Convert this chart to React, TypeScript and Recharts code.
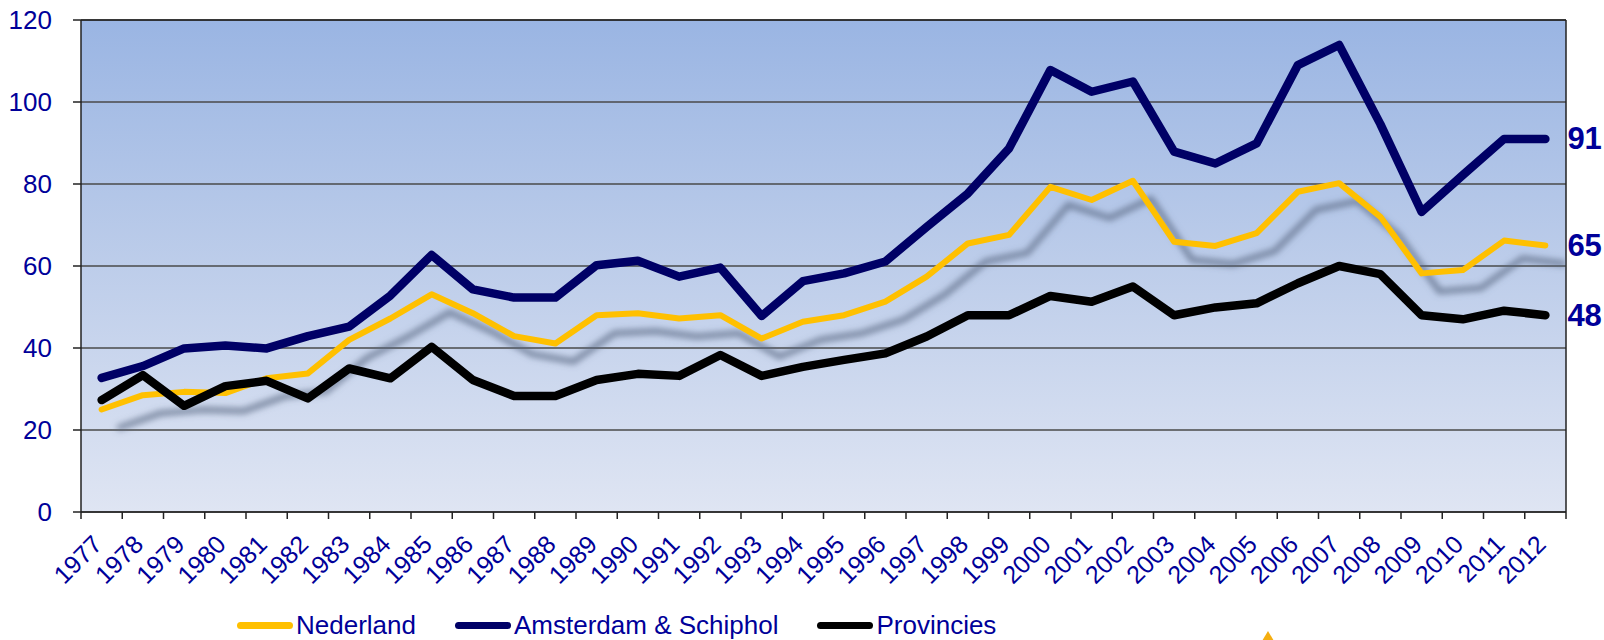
import React from 'react';
import { LineChart, Line, XAxis, YAxis, CartesianGrid, ReferenceLine, Legend, LabelList } from 'recharts';

const years = ['1977','1978','1979','1980','1981','1982','1983','1984','1985','1986','1987','1988','1989','1990','1991','1992','1993','1994','1995','1996','1997','1998','1999','2000','2001','2002','2003','2004','2005','2006','2007','2008','2009','2010','2011','2012'];

const nederland = [25.0, 28.5, 29.3, 29.0, 32.6, 33.8, 42.0, 47.2, 53.1, 48.5, 42.9, 41.1, 48.0, 48.5, 47.2, 48.0, 42.3, 46.4, 48.0, 51.3, 57.4, 65.5, 67.6, 79.3, 76.1, 80.8, 65.9, 64.9, 68.0, 78.1, 80.2, 72.0, 58.2, 59.0, 66.2, 65.0];
const amsterdam = [32.7, 35.6, 39.9, 40.6, 39.9, 42.9, 45.2, 52.8, 62.7, 54.3, 52.3, 52.3, 60.2, 61.3, 57.4, 59.6, 47.8, 56.3, 58.2, 61.1, 69.5, 77.7, 88.7, 107.8, 102.5, 105.0, 87.9, 85.0, 89.9, 109.0, 113.9, 94.6, 73.2, 82.2, 91.0, 91.0];
const provincies = [27.3, 33.4, 25.9, 30.7, 32.0, 27.7, 35.0, 32.6, 40.3, 32.2, 28.3, 28.3, 32.2, 33.7, 33.2, 38.3, 33.2, 35.4, 37.1, 38.7, 42.8, 48.0, 48.0, 52.7, 51.3, 55.0, 48.0, 49.9, 50.9, 55.8, 60.0, 58.0, 48.0, 47.0, 49.1, 48.0];

const yTicks = [0, 20, 40, 60, 80, 100, 120];

const seriesNames = ['Nederland', 'Amsterdam & Schiphol', 'Provincies'];
const seriesColors = ['#FFC000', '#000066', '#000000'];

const data = years.map((y, i) => ({
  idx: i,
  year: y,
  Nederland: nederland[i],
  Amsterdam: amsterdam[i],
  Provincies: provincies[i],
}));

const lastIndex = years.length - 1;
const boundaryTicks = [...years.map((_, i) => i - 0.5), years.length - 0.5];
const labelTicks = years.map((_, i) => i);

const FONT = '"Liberation Sans", Arial, sans-serif';
const TEXT_COLOR = '#000099';

const YearTick = (props: any) => {
  const { x, y, payload } = props;
  const label = years[payload.value];
  return (
    <g transform={`translate(${x + 2},${y + 26})`}>
      <text x={0} y={0} textAnchor="end" transform="rotate(-45)" fill={TEXT_COLOR} fontSize={25} fontFamily={FONT}>
        {label}
      </text>
    </g>
  );
};

const endLabel = (props: any) => {
  const { x, y, value, index } = props;
  if (index !== lastIndex) return <g />;
  return (
    <text x={x + 22} y={y} dominantBaseline="central" fill={TEXT_COLOR} fontSize={31} fontWeight="bold" fontFamily={FONT}>
      {Math.round(value)}
    </text>
  );
};

const renderLegend = () => (
  <div style={{ display: 'flex', alignItems: 'center', height: 30, fontFamily: FONT, fontSize: 26, color: TEXT_COLOR }}>
    {seriesNames.map((n, i) => (
      <div key={n} style={{ display: 'flex', alignItems: 'center', marginRight: 39 }}>
        <div style={{ width: 56, height: 7, borderRadius: 4, background: seriesColors[i], marginRight: 3 }} />
        <span style={{ lineHeight: '30px' }}>{n}</span>
      </div>
    ))}
  </div>
);

export default function App() {
  return (
    <div style={{ position: 'absolute', left: 0, top: 0, width: 1604, height: 640, background: '#fff' }}>
      <LineChart width={1604} height={640} data={data} margin={{ top: 20, right: 38, left: 0, bottom: 0 }}>
        <defs>
          <linearGradient id="bgGrad" x1="0" y1="0" x2="0" y2="1">
            <stop offset="0%" stopColor="#9AB5E3" />
            <stop offset="50%" stopColor="#BDCDEA" />
            <stop offset="100%" stopColor="#DFE5F3" />
          </linearGradient>
          <filter id="shadow" x="-10%" y="-40%" width="120%" height="180%">
            <feGaussianBlur in="SourceAlpha" stdDeviation="3" />
            <feOffset dx="18" dy="18" result="off" />
            <feFlood floodColor="#56657f" floodOpacity="0.7" />
            <feComposite in2="off" operator="in" />
          </filter>
        </defs>
        <CartesianGrid xAxisId="a" vertical={false} stroke="#4a4a4a" strokeWidth={1.3} fill="url(#bgGrad)" fillOpacity={1} />
        <XAxis
          xAxisId="a"
          type="number"
          dataKey="idx"
          domain={[-0.5, years.length - 0.5]}
          ticks={boundaryTicks}
          interval={0}
          tickFormatter={() => ''}
          tickSize={7}
          tickMargin={0}
          height={8}
          stroke="#222"
          strokeWidth={1.5}
          allowDataOverflow
        />
        <XAxis
          xAxisId="b"
          type="number"
          dataKey="idx"
          domain={[-0.5, years.length - 0.5]}
          ticks={labelTicks}
          interval={0}
          tick={<YearTick />}
          tickLine={false}
          axisLine={false}
          tickSize={0}
          tickMargin={0}
          height={90}
          allowDataOverflow
        />
        <YAxis
          type="number"
          domain={[0, 120]}
          ticks={yTicks}
          interval={0}
          width={81}
          tickSize={8}
          tickMargin={21}
          stroke="#222"
          strokeWidth={1.5}
          tick={{ fill: TEXT_COLOR, fontSize: 26, fontFamily: FONT }}
        />
        <ReferenceLine xAxisId="a" y={120} stroke="#222" strokeWidth={1.5} />
        <ReferenceLine xAxisId="a" x={years.length - 0.5} stroke="#222" strokeWidth={1.5} />
        <Legend
          verticalAlign="bottom"
          align="left"
          content={renderLegend}
          wrapperStyle={{ left: 237, bottom: 0, height: 30, width: 1300 }}
        />
        <Line xAxisId="a" dataKey="Nederland" stroke="#FFC000" strokeWidth={6} dot={false} activeDot={false} isAnimationActive={false} filter="url(#shadow)" legendType="none" strokeLinecap="round" strokeLinejoin="round" />
        <Line xAxisId="a" dataKey="Nederland" stroke="#FFC000" strokeWidth={6} dot={false} activeDot={false} isAnimationActive={false} strokeLinecap="round" strokeLinejoin="round">
          <LabelList dataKey="Nederland" content={endLabel} />
        </Line>
        <Line xAxisId="a" dataKey="Amsterdam" stroke="#000066" strokeWidth={8.5} dot={false} activeDot={false} isAnimationActive={false} strokeLinecap="round" strokeLinejoin="round">
          <LabelList dataKey="Amsterdam" content={endLabel} />
        </Line>
        <Line xAxisId="a" dataKey="Provincies" stroke="#000000" strokeWidth={8.5} dot={false} activeDot={false} isAnimationActive={false} strokeLinecap="round" strokeLinejoin="round">
          <LabelList dataKey="Provincies" content={endLabel} />
        </Line>
        <polygon points="1268,631 1262,641 1274,641" fill="#F5AE10" />
      </LineChart>
    </div>
  );
}
